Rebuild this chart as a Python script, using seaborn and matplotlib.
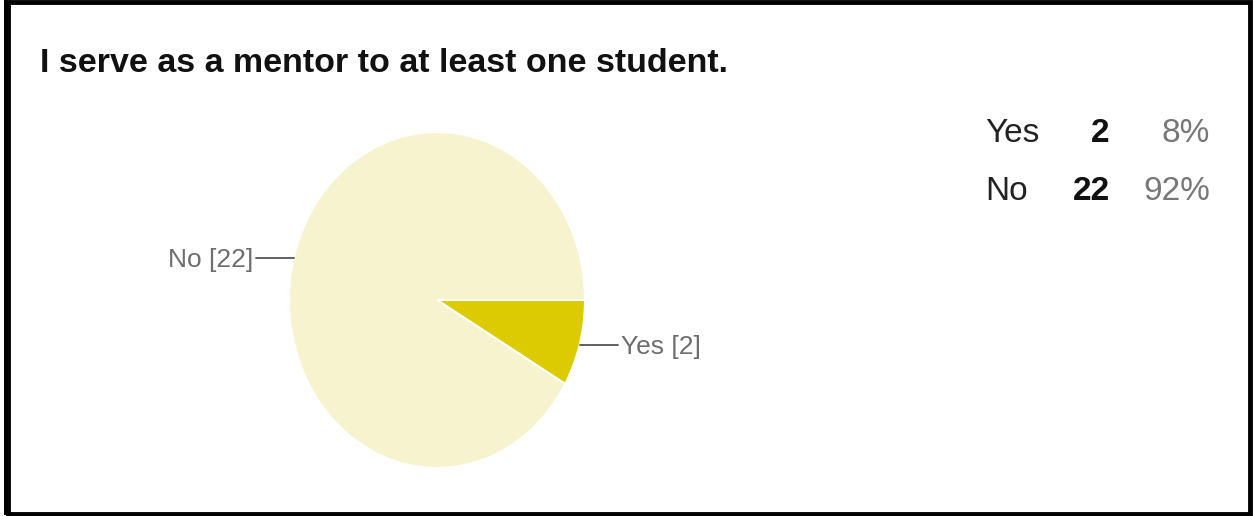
import matplotlib
matplotlib.use("Agg")
import matplotlib.pyplot as plt
import numpy as np
import seaborn as sns
from matplotlib.patches import Rectangle

# survey answers
answers = ["Yes", "No"]
counts = [2, 22]
percents = ["8%", "92%"]
title = "I serve as a mentor to at least one student."

slice_colors = ["#dccb00", "#f7f3cf"]

sns.set_theme(style="white")
narrow = ["Liberation Sans Narrow", "Liberation Sans", "DejaVu Sans"]
plt.rcParams["font.family"] = narrow

W, H = 1254, 516
fig = plt.figure(figsize=(W / 100, H / 100), dpi=100)
fig.patch.set_facecolor("white")


def fx(px):
    return px / W


def fy(py):
    return 1 - py / H


# pie drawn in an axes box matching the stretched ellipse
cx, cy, rx, ry = 437, 300, 148, 168
ax = fig.add_axes([fx(cx - rx), fy(cy + ry), 2 * rx / W, 2 * ry / H])
wedges, _ = ax.pie(counts, colors=slice_colors, startangle=0, counterclock=False,
                   radius=1, wedgeprops=dict(edgecolor="white", linewidth=1.5),
                   frame=False)
ax.set_aspect("auto")
ax.set_xlim(-1, 1)
ax.set_ylim(-1, 1)
ax.axis("off")

for w, name, n in zip(wedges, answers, counts):
    mid = np.deg2rad((w.theta1 + w.theta2) / 2)
    x0, y0 = np.cos(mid), np.sin(mid) - 0.01
    side = np.sign(x0)
    x1 = side * 1.22
    ax.plot([x0, x1], [y0, y0], color="#555555", lw=1.3, clip_on=False)
    ax.text(x1 + side * 0.02, y0 - 0.01, f"{name} [{n}]", ha="left" if side > 0 else "right",
            va="center", fontsize=19, color="#6e6e6e", clip_on=False)

# title
fig.text(fx(40), fy(63), title, fontsize=24.5, fontweight="bold", color="#111111",
         ha="left", va="center")

# summary table
for i, (name, n, p) in enumerate(zip(answers, counts, percents)):
    y = fy(130 + i * 58)
    fig.text(fx(985), y, name, fontsize=24, color="#222222", ha="left", va="center_baseline")
    fig.text(fx(1110), y, str(n), fontsize=24, fontweight="bold", color="#111111",
             ha="right", va="center_baseline")
    fig.text(fx(1210), y, p, fontsize=24, color="#777777", ha="right", va="center_baseline")

# frame around the screenshot
fig.patches.append(Rectangle((fx(7.5), fy(513.5)), fx(1249.5) - fx(7.5), fy(2) - fy(513.5),
                             transform=fig.transFigure, fill=False, edgecolor="black",
                             linewidth=3.5))
fig.patches.append(Rectangle((fx(4), fy(515)), fx(3), fy(0) - fy(515),
                             transform=fig.transFigure, facecolor="black", edgecolor="none"))

fig.savefig("out.png", dpi=100)
